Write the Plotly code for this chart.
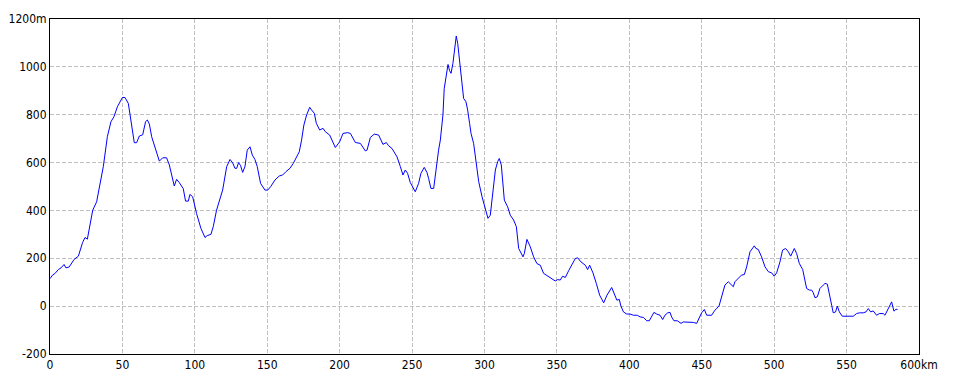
import plotly.graph_objects as go

dist_km = [0, 1.8, 3.5, 5.8, 7.6, 9.7, 11, 13.3, 16.6, 19.6, 22.5, 24.2, 25.8, 27.6, 29.5, 32.2, 34.5, 36.8,
           39.6, 42.1, 44.2, 46.5, 50, 51.8, 54.1, 55.7, 58.2, 59.8, 61.7, 64, 66, 67.2, 68.6, 70.2, 72.5,
           75.5, 77.8, 80.5, 82.4, 84.7, 85.8, 87.4, 89.3, 92, 93.6, 95.5, 96.6, 98.5, 101.2, 104.2, 107,
           108.6, 111.1, 112.7, 115, 119.2, 122, 124.3, 126.1, 127.7, 128.9, 130.2, 131.6, 133, 134.6,
           136.2, 138.1, 139.7, 141.5, 143.1, 145.4, 148.4, 150.3, 152.3, 155.3, 158.3, 160.6, 162.9,
           165.7, 168, 170.3, 172.1, 173.7, 175.3, 177.2, 179.3, 180.6, 182.5, 183.9, 186.2, 188.5, 190.1,
           193.1, 195.2, 197, 200, 202.3, 205.5, 207.4, 210.8, 214.3, 217.7, 218.9, 221.2, 223.9, 226.9,
           229.9, 232.2, 233.8, 236.1, 239.6, 241.9, 243.7, 245.3, 246.9, 248.8, 252.2, 254.5, 256.1,
           258.4, 260.3, 261.4, 263, 264.9, 266.7, 268.3, 269.5, 271.3, 272.2, 274.1, 274.8, 275.9, 276.9,
           278.2, 279.4, 280.5, 281.5, 282.8, 284, 285.6, 287.2, 288.4, 289.7, 290.7, 292.5, 294.3, 296,
           298.3, 300.6, 302.4, 304, 305.8, 307.5, 309.1, 310.2, 311.6, 313.7, 316, 317.8, 320.1, 322,
           323.6, 325.2, 326.6, 327.5, 329.3, 331.6, 333.9, 336.2, 338.5, 340.8, 344.3, 346.6, 348.9,
           350.5, 352.3, 353.9, 355.8, 358.1, 360.4, 362.7, 364.3, 366.6, 369.6, 371.2, 372.6, 374.9,
           377.2, 379.5, 382.3, 384.6, 387.8, 389.9, 391.4, 393.1, 394, 395.9, 398.2, 400.5, 402.8, 405.5,
           407.4, 409.7, 412, 413.8, 415.4, 417, 418.9, 421.2, 423, 424.6, 426.5, 428.1, 429.2, 430.8,
           433.1, 435.7, 437.3, 439.6, 441.9, 444.2, 446.5, 448.1, 449.9, 451.8, 453.4, 456.8, 459.1,
           461.9, 463.7, 466, 468.3, 470.6, 471.8, 472.9, 475.2, 477.5, 479.4, 481, 483.3, 485.1, 486.3,
           487.4, 489, 491.3, 493.7, 496, 498.3, 500, 501.7, 504, 505.8, 507.9, 509.8, 511.4, 512.7,
           513.9, 515.5, 517.4, 519.7, 521.3, 522.4, 524.3, 525.9, 527, 528.2, 529.8, 531.6, 533.9,
           535.1, 536.7, 538.5, 539.7, 540.8, 542.4, 543.6, 545, 547, 549.6, 551.9, 554.6, 556.9, 558.8,
           561.5, 563.4, 565, 566.6, 568.4, 570.7, 572.6, 575.3, 576.5, 578.1, 579.5, 581.1, 582.7,
           584.1, 585.2]

elev_m = [115, 130, 137, 153, 160, 174, 160, 164, 195, 209, 266, 287, 280, 332, 401, 436, 513, 583,
          708, 771, 792, 833, 872, 872, 847, 778, 683, 683, 711, 716, 771, 778, 761, 708, 659,
          606, 620, 620, 590, 520, 502, 530, 516, 491, 439, 439, 467, 457, 387, 325, 287,
          295, 300, 332, 401, 485, 583, 613, 599, 576, 576, 600, 587, 559, 583,
          652, 666, 631, 613, 583, 513, 485, 485, 499, 527, 544, 548, 562,
          576, 597, 622, 645, 694, 757, 799, 831, 820, 806, 764, 736, 743, 729,
          715, 687, 663, 687, 722, 725, 722, 684, 680, 649, 652, 705, 719, 715,
          676, 684, 670, 659, 624, 583, 548, 569, 555, 516, 478, 513, 555,
          580, 558, 534, 492, 492, 583, 652, 694, 799, 910, 1000, 1010, 984, 973,
          1015, 1084, 1129, 1098, 1029, 945, 868, 854, 819, 764, 722, 680, 597, 520,
          457, 401, 367, 380, 492, 569, 604, 617, 590, 443, 415, 380, 360, 332,
          241, 220, 206, 220, 279, 248, 206, 178, 171, 137, 123, 116, 105,
          111, 109, 125, 120, 148, 171, 199, 202, 185, 171, 153, 171, 139,
          95, 46, 14, 46, 78, 46, 25, 28, 4, -24, -33, -33, -38, -38,
          -45, -47, -61, -61, -42, -26, -33, -38, -56, -38, -28, -26, -45, -61,
          -61, -72, -66, -66, -68, -68, -72, -52, -28, -14, -38, -38, -17,
          0, 39, 88, 102, 88, 81, 102, 118, 130, 132, 164, 227, 245, 252,
          241, 237, 206, 164, 144, 139, 125, 139, 185, 234, 241, 227, 209, 227,
          241, 220, 178, 153, 109, 74, 67, 67, 56, 35, 39, 74, 88,
          95, 92, 46, 4, -28, -24, 0, -24, -42, -42, -45, -42, -31, -28,
          -28, -24, -10, -24, -20, -38, -31, -31, -38, -20, 0, 18, -21,
          -13, -14]

x_ticks = [0, 50, 100, 150, 200, 250, 300, 350, 400, 450, 500, 550, 600]
x_tick_labels = ["0", "50", "100", "150", "200", "250", "300", "350", "400", "450", "500", "550", "600km"]
y_ticks = [-200, 0, 200, 400, 600, 800, 1000, 1200]
y_tick_labels = ["-200", "0", "200", "400", "600", "800", "1000", "1200m"]

fig = go.Figure()
fig.add_trace(go.Scatter(x=dist_km, y=elev_m, mode="lines",
                         line=dict(color="#0000ff", width=1), showlegend=False))

font = dict(family="DejaVu Sans Condensed, DejaVu Sans, sans-serif", size=12, color="black")
grid = dict(showgrid=True, gridcolor="#c0c0c0", griddash="4px,2px", gridwidth=1,
            showline=True, linecolor="black", linewidth=1, mirror=True,
            zeroline=False, ticks="", tickfont=font, automargin=False)

fig.update_xaxes(range=[0, 600], tickvals=x_ticks, ticktext=x_tick_labels, **grid)
fig.update_yaxes(range=[-200, 1200], tickvals=y_ticks, ticktext=y_tick_labels, **grid)

fig.update_layout(width=960, height=384, margin=dict(l=50, r=41, t=19, b=30),
                  paper_bgcolor="white", plot_bgcolor="white")

fig.write_html("out.html")
